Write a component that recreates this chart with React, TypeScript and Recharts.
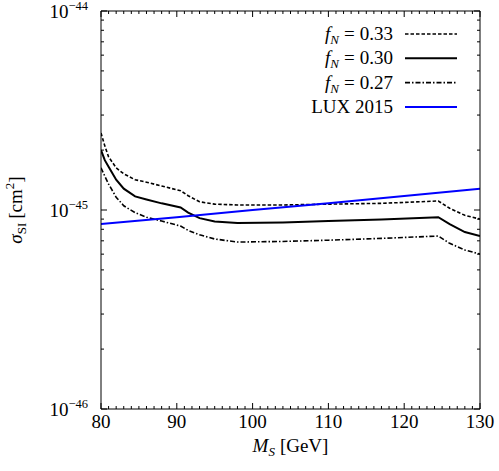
import { Legend, Line, LineChart, XAxis, YAxis } from "recharts";

// S mass in GeV
const massGrid = [80, 80.5, 81, 82, 83, 84.5, 86, 88, 90.5, 91.5, 93, 95, 98, 104, 110, 117, 124.5, 126, 128, 130];
// sigma_SI in units of 1e-45 cm^2
const sigma033 = [2.44, 2.1, 1.85, 1.63, 1.52, 1.42, 1.38, 1.32, 1.25, 1.18, 1.1, 1.07, 1.06, 1.06, 1.07, 1.08, 1.11, 1.02, 0.94, 0.9];
const sigma030 = [2.0, 1.78, 1.65, 1.42, 1.28, 1.17, 1.13, 1.08, 1.03, 0.97, 0.91, 0.875, 0.86, 0.865, 0.88, 0.895, 0.92, 0.85, 0.775, 0.74];
const sigma027 = [1.63, 1.48, 1.35, 1.16, 1.05, 0.97, 0.92, 0.88, 0.83, 0.79, 0.75, 0.715, 0.69, 0.695, 0.705, 0.72, 0.74, 0.68, 0.63, 0.6];
const luxMass = [80, 90, 100, 110, 120, 130];
const luxSigma = [0.85, 0.92, 1.0, 1.08, 1.175, 1.28];

const xMajor = [80, 90, 100, 110, 120, 130];
const yMajor = [1e-46, 1e-45, 1e-44];
const yExponents = ["\u221246", "\u221245", "\u221244"];

const UNIT = 1e-45;
const FONT = "'Liberation Serif', 'DejaVu Serif', serif";

const xTicks: number[] = [];
for (let m = 80; m <= 130; m++) xTicks.push(m);
const yTicks: number[] = [];
[1e-46, 1e-45].forEach((d) => {
  for (let k = 1; k <= 9; k++) yTicks.push(k * d);
});
yTicks.push(1e-44);

const curves = massGrid.map((ms, i) => ({
  ms,
  f033: sigma033[i] * UNIT,
  f030: sigma030[i] * UNIT,
  f027: sigma027[i] * UNIT,
}));
const lux = luxMass.map((ms, i) => ({ ms, lux: luxSigma[i] * UNIT }));

const series = [
  { key: "f033", label: "0.33", stroke: "#000", width: 1.6, dash: "3.5 2" },
  { key: "f030", label: "0.30", stroke: "#000", width: 2, dash: undefined },
  { key: "f027", label: "0.27", stroke: "#000", width: 1.6, dash: "5 2 1.5 2" },
];

const isMajorX = (v: number) => xMajor.includes(v);
const majorYIndex = (v: number) => yMajor.findIndex((m) => Math.abs(v / m - 1) < 1e-6);

function BottomTick({ x, y, payload }: any) {
  const major = isMajorX(payload.value);
  return (
    <g>
      <line x1={x} x2={x} y1={y} y2={y - (major ? 6 : 3)} stroke="#000" />
      {major && (
        <text x={x} y={y + 19} textAnchor="middle" fontSize={19} fontFamily={FONT} fill="#000">
          {payload.value}
        </text>
      )}
    </g>
  );
}

function TopTick({ x, y, payload }: any) {
  const major = isMajorX(payload.value);
  return <line x1={x} x2={x} y1={y} y2={y + (major ? 6 : 3)} stroke="#000" />;
}

function LeftTick({ x, y, payload }: any) {
  const idx = majorYIndex(payload.value);
  return (
    <g>
      <line x1={x} x2={x + (idx >= 0 ? 6 : 3)} y1={y} y2={y} stroke="#000" />
      {idx >= 0 && (
        <text x={x - 13} y={y + 7} textAnchor="end" fontSize={19} fontFamily={FONT} fill="#000">
          10
          <tspan dy={-8} fontSize={12.5}>
            {yExponents[idx]}
          </tspan>
        </text>
      )}
    </g>
  );
}

function RightTick({ x, y, payload }: any) {
  const major = majorYIndex(payload.value) >= 0;
  return <line x1={x} x2={x - (major ? 6 : 3)} y1={y} y2={y} stroke="#000" />;
}

function XTitle({ viewBox }: any) {
  const cx = viewBox.x + viewBox.width / 2;
  return (
    <text x={cx} y={viewBox.y + 43} textAnchor="middle" fontSize={19} fontFamily={FONT} fill="#000">
      <tspan fontStyle="italic">M</tspan>
      <tspan fontStyle="italic" fontSize={13} dy={4}>S</tspan>
      <tspan dy={-4} dx={5}>[GeV]</tspan>
    </text>
  );
}

function YTitle({ viewBox }: any) {
  const cx = viewBox.x + 12;
  const cy = viewBox.y + viewBox.height / 2;
  return (
    <text
      x={cx}
      y={cy}
      transform={`rotate(-90, ${cx}, ${cy})`}
      textAnchor="middle"
      fontSize={19}
      fontFamily={FONT}
      fill="#000"
    >
      <tspan fontStyle="italic">σ</tspan>
      <tspan fontSize={13} dy={4}>SI</tspan>
      <tspan dy={-4} dx={4}>[cm</tspan>
      <tspan fontSize={13} dy={-8}>2</tspan>
      <tspan dy={8}>]</tspan>
    </text>
  );
}

function ChartLegend() {
  const rows = [
    ...series.map((s) => ({ ...s, fn: true })),
    { key: "lux", label: "LUX 2015", stroke: "#0000ff", width: 2, dash: undefined, fn: false },
  ];
  return (
    <svg width={180} height={100} style={{ display: "block" }}>
      {rows.map((r, i) => {
        const cy = 14 + i * 24.3;
        return (
          <g key={r.key}>
            <text x={103} y={cy + 6} textAnchor="end" fontSize={19} fontFamily={FONT} fill="#000">
              {r.fn ? (
                <>
                  <tspan fontStyle="italic">f</tspan>
                  <tspan fontStyle="italic" fontSize={13} dy={4}>N</tspan>
                  <tspan dy={-4} dx={5}>=</tspan>
                  <tspan dx={5}>{r.label}</tspan>
                </>
              ) : (
                r.label
              )}
            </text>
            <line x1={115} x2={167} y1={cy} y2={cy} stroke={r.stroke} strokeWidth={r.width} strokeDasharray={r.dash} />
          </g>
        );
      })}
    </svg>
  );
}

export default function App() {
  return (
    <div style={{ position: "absolute", left: 0, top: 0, width: 499, height: 471, background: "#fff" }}>
      <LineChart width={499} height={471} margin={{ top: 10, right: 18, bottom: 22, left: 10 }}>
        <XAxis
          xAxisId="bottom"
          type="number"
          dataKey="ms"
          domain={[80, 130]}
          allowDataOverflow
          ticks={xTicks}
          interval={0}
          tickSize={0}
          tickMargin={0}
          tickLine={false}
          axisLine={{ stroke: "#000" }}
          tick={BottomTick}
          height={40}
          label={XTitle}
        />
        <XAxis
          xAxisId="top"
          orientation="top"
          type="number"
          dataKey="ms"
          domain={[80, 130]}
          allowDataOverflow
          ticks={xTicks}
          interval={0}
          tickSize={0}
          tickMargin={0}
          tickLine={false}
          axisLine={{ stroke: "#000" }}
          tick={TopTick}
          height={1}
        />
        <YAxis
          yAxisId="left"
          type="number"
          scale="log"
          domain={[1e-46, 1e-44]}
          allowDataOverflow
          ticks={yTicks}
          interval={0}
          tickSize={0}
          tickMargin={0}
          tickLine={false}
          axisLine={{ stroke: "#000" }}
          tick={LeftTick}
          width={91}
          label={YTitle}
        />
        <YAxis
          yAxisId="right"
          orientation="right"
          type="number"
          scale="log"
          domain={[1e-46, 1e-44]}
          allowDataOverflow
          ticks={yTicks}
          interval={0}
          tickSize={0}
          tickMargin={0}
          tickLine={false}
          axisLine={{ stroke: "#000" }}
          tick={RightTick}
          width={1}
        />
        {series.map((s) => (
          <Line
            key={s.key}
            data={curves}
            dataKey={s.key}
            xAxisId="bottom"
            yAxisId="left"
            type="linear"
            stroke={s.stroke}
            strokeWidth={s.width}
            strokeDasharray={s.dash}
            dot={false}
            activeDot={false}
            isAnimationActive={false}
          />
        ))}
        <Line
          data={lux}
          dataKey="lux"
          xAxisId="bottom"
          yAxisId="left"
          type="linear"
          stroke="#0000ff"
          strokeWidth={2}
          dot={false}
          activeDot={false}
          isAnimationActive={false}
        />
        <Legend
          content={ChartLegend}
          layout="horizontal"
          verticalAlign="middle"
          align="center"
          wrapperStyle={{ left: 290, top: 20, width: 180, height: 100 }}
        />
      </LineChart>
    </div>
  );
}
